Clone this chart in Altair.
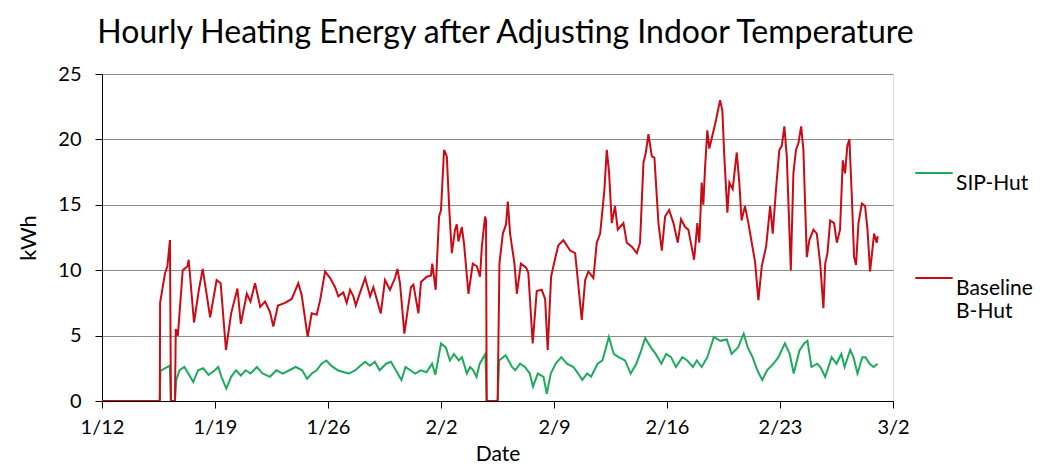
import altair as alt
import pandas as pd

# Days since 1/12 and hourly heating energy (kWh)
red_day = [0, 3.58, 3.60, 3.90, 4.05, 4.21, 4.27, 4.52, 4.57, 4.70, 4.85, 5.00, 5.30, 5.37, 5.70, 6.00, 6.24, 6.70,
           7.10, 7.35, 7.68, 8.00, 8.39, 8.60, 8.97, 9.20, 9.48, 9.80, 10.10, 10.41, 10.61, 10.90, 11.34,
           11.75, 12.16, 12.37, 12.74, 12.99, 13.30, 13.51, 13.82, 14.13, 14.44, 14.64, 14.95, 15.16, 15.37,
           15.57, 15.72, 15.99, 16.30, 16.61, 16.81, 17.27, 17.53, 17.84, 18.15, 18.30, 18.46, 18.73, 19.14,
           19.29, 19.60, 19.76, 20.12, 20.38, 20.46, 20.67, 20.88, 21.00, 21.19, 21.36, 21.52, 21.67, 21.87,
           21.98, 22.08, 22.29, 22.43, 22.70, 22.97, 23.22, 23.42, 23.53, 23.73, 23.79, 23.83, 24.51, 24.62,
           24.83, 25.03, 25.14, 25.28, 25.55, 25.70, 25.95, 26.27, 26.41, 26.68, 26.93, 27.24, 27.45, 27.61,
           27.82, 28.07, 28.27, 28.58, 29.00, 29.31, 29.72, 29.93, 30.13, 30.44, 30.65, 30.86, 31.12, 31.27,
           31.41, 31.58, 31.78, 31.95, 32.30, 32.51, 32.82, 33.13, 33.33, 33.54, 33.69, 33.85, 34.06, 34.22,
           34.47, 34.68, 34.88, 35.13, 35.40, 35.67, 35.87, 36.12, 36.32, 36.68, 36.88, 37.00, 37.15, 37.25,
           37.36, 37.50, 37.62, 37.83, 38.04, 38.29, 38.43, 38.55, 38.74, 38.86, 39.07, 39.32, 39.48, 39.62,
           39.83, 40.04, 40.25, 40.46, 40.66, 40.87, 41.14, 41.39, 41.55, 41.76, 41.96, 42.11, 42.27, 42.42,
           42.67, 42.83, 42.99, 43.14, 43.31, 43.45, 43.56, 43.66, 43.82, 44.07, 44.28, 44.49, 44.69, 44.80,
           44.94, 45.11, 45.35, 45.52, 45.72, 45.89, 46.03, 46.17, 46.30, 46.45, 46.59, 46.71, 46.86, 47.07,
           47.27, 47.42, 47.58, 47.83, 47.99, 48.05]
red_kwh = [0, 0, 7.5, 9.75, 10.3, 12.3, 0, 0, 5.5, 5.0, 7.5, 10.0, 10.3, 10.8, 6.0, 8.5, 10.1, 6.4,
           9.25, 9.0, 3.9, 6.7, 8.6, 5.9, 8.2, 7.6, 9.0, 7.2, 7.6, 6.8, 5.7, 7.3, 7.5,
           7.8, 9.0, 8.1, 4.9, 6.7, 6.6, 7.7, 9.9, 9.4, 8.7, 8.0, 8.3, 7.5, 8.5,
           8.0, 7.3, 8.3, 9.4, 8.0, 8.7, 6.7, 9.25, 8.5, 9.4, 10.1, 9.0, 5.15, 8.7,
           8.9, 6.7, 9.1, 9.5, 9.6, 10.5, 8.5, 14.1, 14.6, 19.2, 18.7, 14.5, 11.3, 13.1,
           13.5, 12.2, 13.3, 12.0, 8.2, 10.5, 10.3, 9.5, 11.8, 14.1, 13.8, 0, 0, 10.5,
           12.8, 13.5, 15.25, 12.8, 10.5, 8.2, 10.5, 10.2, 9.8, 4.4, 8.4, 8.5, 7.8, 3.9,
           9.5, 10.9, 11.9, 12.3, 11.5, 11.3, 6.2, 9.25, 9.9, 9.4, 12.1, 12.8, 16.1, 19.2,
           17.5, 13.6, 14.9, 13.1, 13.6, 12.1, 11.8, 11.3, 12.1, 18.2, 19.0, 20.4, 18.7, 18.6,
           13.6, 11.5, 14.1, 14.6, 13.6, 12.1, 13.9, 13.3, 13.1, 10.8, 13.6, 12.1, 16.7, 15.0,
           17.9, 20.7, 19.3, 20.4, 21.5, 23.0, 22.2, 18.7, 14.4, 16.7, 16.2, 19.0, 16.7, 13.8,
           14.9, 13.6, 12.1, 10.6, 7.7, 10.3, 11.8, 14.9, 12.8, 16.3, 19.2, 19.5, 21.0, 18.7,
           10.0, 17.4, 19.2, 19.7, 21.0, 19.2, 14.9, 11.0, 12.3, 13.1, 12.8, 10.5, 7.1, 10.5,
           11.3, 13.8, 13.6, 12.1, 13.1, 18.4, 17.4, 19.5, 20.0, 15.6, 11.0, 10.4, 13.6, 15.1,
           14.9, 13.1, 9.9, 12.8, 12.1, 12.6]

green_day = [0, 3.58, 3.62, 3.90, 4.20, 4.27, 4.52, 4.60, 4.80, 5.10, 5.35, 5.65, 5.95, 6.27, 6.60, 7.00, 7.20,
             7.40, 7.70, 8.00, 8.30, 8.60, 8.90, 9.20, 9.60, 9.95, 10.40, 10.80, 11.20, 11.60, 12.00, 12.40,
             12.70, 13.00, 13.30, 13.60, 13.90, 14.20, 14.60, 15.00, 15.30, 15.70, 16.00, 16.30, 16.60, 16.90,
             17.20, 17.60, 17.90, 18.20, 18.55, 18.80, 19.10, 19.40, 19.75, 20.10, 20.45, 20.65, 21.00, 21.30,
             21.55, 21.80, 22.10, 22.30, 22.60, 22.80, 23.00, 23.20, 23.40, 23.75, 23.83, 24.51, 24.60, 25.00,
             25.40, 25.60, 25.90, 26.20, 26.50, 26.70, 27.00, 27.35, 27.55, 27.80, 28.10, 28.45, 28.80, 29.20,
             29.50, 29.75, 30.05, 30.30, 30.70, 31.00, 31.40, 31.70, 32.00, 32.40, 32.75, 33.10, 33.40, 33.65,
             34.00, 34.30, 34.65, 34.95, 35.25, 35.55, 35.95, 36.25, 36.60, 36.85, 37.15, 37.50, 37.90, 38.30,
             38.70, 39.00, 39.40, 39.75, 40.00, 40.30, 40.60, 40.90, 41.20, 41.60, 41.90, 42.30, 42.60, 42.85,
             43.20, 43.50, 43.70, 43.95, 44.30, 44.50, 44.80, 45.20, 45.50, 45.80, 46.00, 46.35, 46.55, 46.80,
             47.10, 47.30, 47.55, 47.80, 48.05]
green_kwh = [0, 0, 2.3, 2.5, 2.7, 0, 0, 1.6, 2.35, 2.6, 2.1, 1.45, 2.35, 2.5, 2.0, 2.35, 2.6,
             1.85, 0.95, 1.85, 2.35, 1.95, 2.35, 2.1, 2.6, 2.1, 1.85, 2.35, 2.1, 2.35, 2.6, 2.35,
             1.7, 2.1, 2.35, 2.85, 3.1, 2.7, 2.35, 2.2, 2.1, 2.35, 2.7, 3.0, 2.7, 3.0,
             2.35, 2.85, 3.0, 2.35, 1.6, 2.6, 2.35, 2.1, 2.35, 2.2, 2.85, 2.0, 4.4, 4.1,
             3.1, 3.6, 3.1, 3.35, 2.1, 2.6, 2.35, 1.85, 2.85, 3.6, 0, 0, 3.1, 3.5,
             2.6, 2.35, 2.85, 2.6, 2.1, 1.1, 2.1, 1.85, 0.55, 2.1, 2.85, 3.35, 2.85, 2.6,
             2.1, 1.6, 2.1, 1.85, 2.85, 3.1, 4.9, 3.6, 3.35, 3.1, 2.1, 2.85, 3.85, 4.8,
             4.1, 3.6, 2.85, 3.6, 3.35, 2.6, 3.35, 3.1, 2.6, 3.1, 2.6, 3.35, 4.9, 4.6,
             4.7, 3.6, 4.1, 5.15, 4.1, 3.35, 2.35, 1.6, 2.35, 2.85, 3.35, 4.4, 3.6, 2.1,
             3.85, 4.4, 4.6, 2.6, 2.85, 2.6, 1.85, 3.35, 2.85, 3.6, 2.6, 3.9, 3.35, 2.1,
             3.35, 3.35, 2.85, 2.6, 2.85]

series_names = ["SIP-Hut", "Baseline B-Hut"]
series_colors = ["#1DAA5C", "#CC0A14"]
x_tick_days = [0, 7, 14, 21, 28, 35, 42, 49]
x_tick_labels = ["1/12", "1/19", "1/26", "2/2", "2/9", "2/16", "2/23", "3/2"]

green_df = pd.DataFrame({"day": green_day, "kwh": green_kwh, "series": series_names[0]})
red_df = pd.DataFrame({"day": red_day, "kwh": red_kwh, "series": series_names[1]})

FONT = "Lato"
label_expr = "[" + ",".join(f"'{l}'" for l in x_tick_labels) + "][round(datum.value / 7)]"

color = alt.Color(
    "series:N",
    scale=alt.Scale(domain=series_names, range=series_colors),
    legend=alt.Legend(
        title=None, orient="none", legendX=812, legendY=79,
        symbolType="stroke", symbolSize=1400, symbolStrokeWidth=2,
        labelFont=FONT, labelFontSize=21, labelColor="#000000",
        labelExpr="split(datum.label, ' ')", labelLimit=200,
        rowPadding=64, labelOffset=2, labelBaseline="top",
    ),
)

x = alt.X(
    "day:Q",
    scale=alt.Scale(domain=[0, 49], nice=False, zero=False),
    axis=alt.Axis(
        values=x_tick_days, labelExpr=label_expr, title="Date", grid=False,
        labelFlush=False, labelOverlap=False,
        tickSize=7, tickColor="#000000", domainColor="#000000",
        labelFont=FONT, labelFontSize=20, labelColor="#000000", labelPadding=9,
        titleFont=FONT, titleFontSize=21, titleFontWeight="normal", titleColor="#000000", titlePadding=6,
    ),
)
y = alt.Y(
    "kwh:Q",
    scale=alt.Scale(domain=[0, 25], nice=False),
    axis=alt.Axis(
        values=[0, 5, 10, 15, 20, 25], title="kWh", grid=True, gridColor="#8C8C8C", gridWidth=1,
        tickSize=7, tickColor="#000000", domainColor="#000000",
        labelFont=FONT, labelFontSize=20, labelColor="#000000", labelPadding=14,
        titleFont=FONT, titleFontSize=22, titleFontWeight="normal", titleColor="#000000", titlePadding=17,
    ),
)

green_line = alt.Chart(green_df).mark_line(strokeWidth=2, clip=True).encode(x=x, y=y, color=color, order="day:Q")
red_line = alt.Chart(red_df).mark_line(strokeWidth=2, clip=True).encode(x=x, y=y, color=color, order="day:Q")

chart = (
    alt.layer(green_line, red_line)
    .properties(
        width=791, height=327,
        title=alt.TitleParams(
            "Hourly Heating Energy after Adjusting Indoor Temperature",
            font=FONT, fontSize=32, fontWeight="normal", color="#000000",
            anchor="middle", dx=8, offset=14,
        ),
        autosize=alt.AutoSizeParams(type="none"),
        padding={"left": 94, "top": 66, "right": 140, "bottom": 70},
    )
    .configure_view(stroke="#000000", strokeWidth=1)
    .configure(background="#FFFFFF")
)

chart.save("out.html", embed_options={"renderer": "svg", "actions": False})
